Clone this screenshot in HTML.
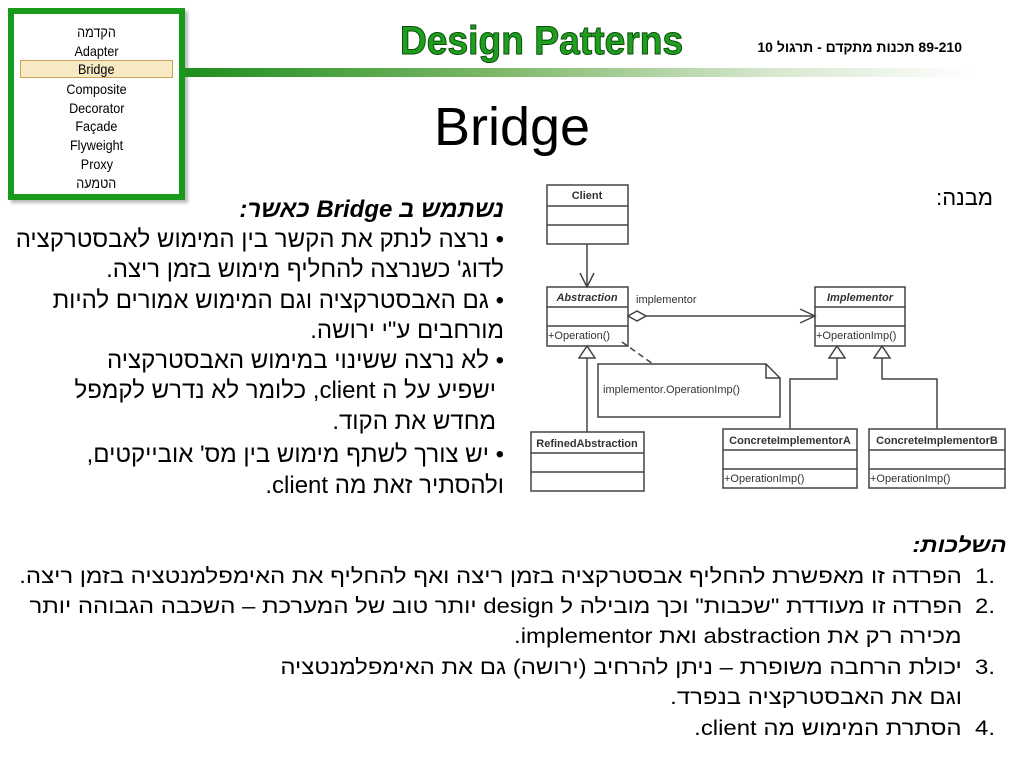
<!DOCTYPE html>
<html><head><meta charset="utf-8"><style>
body{margin:0;width:1024px;height:768px;background:#fff;position:relative;overflow:hidden;font-family:"Liberation Sans","Noto Sans CJK JP",sans-serif;color:#000}
.a{position:absolute;white-space:nowrap}
.r{direction:rtl;text-align:right}
.side{position:absolute;left:8px;top:8px;width:165px;height:180px;border:6px solid #1a9a1a;background:#fff;box-shadow:3px 3px 3px #bbb}
.side div{position:absolute;left:0;width:165px;text-align:center;font-size:14px;line-height:18px}
.side div span{display:inline-block;transform:scaleX(0.9)}
.l{font-size:24px;line-height:30px}
.b{font-size:21px;line-height:30px;transform:scaleX(1.14);transform-origin:right center}
.n{font-size:21px;line-height:30px;transform:scaleX(1.14);transform-origin:left center}
</style></head><body>
<div class="side">
<div style="top:9px"><span>הקדמה</span></div>
<div style="top:28px"><span>Adapter</span></div>
<div style="top:46px;left:6px;width:151px;height:16px;background:#f6e9c4;border:1px solid #c9a757;line-height:16px"><span>Bridge</span></div>
<div style="top:66px"><span>Composite</span></div>
<div style="top:85px"><span>Decorator</span></div>
<div style="top:103px"><span>Façade</span></div>
<div style="top:122px"><span>Flyweight</span></div>
<div style="top:141px"><span>Proxy</span></div>
<div style="top:160px"><span>הטמעה</span></div>
</div>
<div class="a" style="left:185px;top:68px;width:790px;height:9px;background:linear-gradient(to right,#1e8e1e,#7fb86a 40%,#d8e8d0 75%,#fff)"></div>
<div class="a" style="left:390px;top:19px;width:284px;text-align:center;font-weight:bold;font-size:40px;line-height:44px;color:#1ea01e;-webkit-text-stroke:1px #0a4a0a;transform:scaleX(0.93)">Design Patterns</div>
<div class="a r" style="right:62px;top:38px;font-weight:bold;font-size:14px;line-height:18px">89-210 תכנות מתקדם - תרגול 10</div>
<div class="a" style="left:0;width:1024px;text-align:center;top:96px;font-size:54px;line-height:62px">Bridge</div>
<div class="a r" style="right:31px;top:184px;font-size:22px;line-height:28px">מבנה:</div>

<div class="a r l" style="right:520px;top:195px;font-weight:bold;font-style:italic">נשתמש ב Bridge כאשר:</div>
<div class="a r l" style="right:520px;top:225px">• נרצה לנתק את הקשר בין המימוש לאבסטרקציה</div>
<div class="a r l" style="right:520px;top:255px">לדוג' כשנרצה להחליף מימוש בזמן ריצה.</div>
<div class="a r l" style="right:520px;top:286px">• גם האבסטרקציה וגם המימוש אמורים להיות</div>
<div class="a r l" style="right:520px;top:316px">מורחבים ע"י ירושה.</div>
<div class="a r l" style="right:520px;top:346px">• לא נרצה ששינוי במימוש האבסטרקציה</div>
<div class="a r l" style="right:528px;top:376px">ישפיע על ה client, כלומר לא נדרש לקמפל</div>
<div class="a r l" style="right:528px;top:407px">מחדש את הקוד.</div>
<div class="a r l" style="right:520px;top:440px">• יש צורך לשתף מימוש בין מס' אובייקטים,</div>
<div class="a r l" style="right:520px;top:471px">ולהסתיר זאת מה client.</div>

<div class="a r b" style="right:17px;top:531px;font-weight:bold;font-style:italic">השלכות:</div>
<div class="a n" style="left:975px;top:562px">1.</div>
<div class="a r b" style="right:62px;top:562px">הפרדה זו מאפשרת להחליף אבסטרקציה בזמן ריצה ואף להחליף את האימפלמנטציה בזמן ריצה.</div>
<div class="a n" style="left:975px;top:592px">2.</div>
<div class="a r b" style="right:62px;top:592px">הפרדה זו מעודדת "שכבות" וכך מובילה ל design יותר טוב של המערכת – השכבה הגבוהה יותר</div>
<div class="a r b" style="right:62px;top:622px">מכירה רק את abstraction ואת implementor.</div>
<div class="a n" style="left:975px;top:653px">3.</div>
<div class="a r b" style="right:62px;top:653px">יכולת הרחבה משופרת – ניתן להרחיב (ירושה) גם את האימפלמנטציה</div>
<div class="a r b" style="right:62px;top:683px">וגם את האבסטרקציה בנפרד.</div>
<div class="a n" style="left:975px;top:714px">4.</div>
<div class="a r b" style="right:62px;top:714px">הסתרת המימוש מה client.</div>

<svg class="a" style="left:0;top:0" width="1024" height="768" font-family="Liberation Sans, sans-serif">
<g fill="#fff" stroke="#444" stroke-width="1.5">
<rect x="547" y="185" width="81" height="59"/><line x1="547" y1="206" x2="628" y2="206"/><line x1="547" y1="225" x2="628" y2="225"/>
<rect x="547" y="287" width="81" height="59"/><line x1="547" y1="307" x2="628" y2="307"/><line x1="547" y1="326" x2="628" y2="326"/>
<rect x="815" y="287" width="90" height="59"/><line x1="815" y1="307" x2="905" y2="307"/><line x1="815" y1="326" x2="905" y2="326"/>
<rect x="531" y="432" width="113" height="59"/><line x1="531" y1="453" x2="644" y2="453"/><line x1="531" y1="472" x2="644" y2="472"/>
<rect x="723" y="429" width="134" height="59"/><line x1="723" y1="450" x2="857" y2="450"/><line x1="723" y1="469" x2="857" y2="469"/>
<rect x="869" y="429" width="136" height="59"/><line x1="869" y1="450" x2="1005" y2="450"/><line x1="869" y1="469" x2="1005" y2="469"/>
<path d="M598 364 H766 L780 378 V417 H598 Z"/><path d="M766 364 V378 H780" fill="none"/>
</g>
<g stroke="#444" stroke-width="1.5" fill="none">
<line x1="587" y1="244" x2="587" y2="286"/><path d="M580 273 L587 287 L594 273"/>
<line x1="645" y1="316" x2="814" y2="316"/><path d="M800 309 L815 316 L800 323"/>
<path d="M628 316 L637 311 L646 316 L637 321 Z" fill="#fff"/>
<line x1="587" y1="358" x2="587" y2="432"/><path d="M587 346 L579 358 H595 Z" fill="#fff"/>
<path d="M837 358 V379 H790 V429"/><path d="M837 346 L829 358 H845 Z" fill="#fff"/>
<path d="M882 358 V379 H937 V429"/><path d="M882 346 L874 358 H890 Z" fill="#fff"/>
<line x1="622" y1="342" x2="653" y2="364" stroke-dasharray="6,4"/>
</g>
<g font-size="11" fill="#333">
<text x="587" y="199" text-anchor="middle" font-weight="bold">Client</text>
<text x="587" y="301" text-anchor="middle" font-weight="bold" font-style="italic">Abstraction</text>
<text x="860" y="301" text-anchor="middle" font-weight="bold" font-style="italic">Implementor</text>
<text x="587" y="447" text-anchor="middle" font-weight="bold">RefinedAbstraction</text>
<text x="790" y="444" text-anchor="middle" font-weight="bold">ConcreteImplementorA</text>
<text x="937" y="444" text-anchor="middle" font-weight="bold">ConcreteImplementorB</text>
<text x="548" y="339">+Operation()</text>
<text x="816" y="339">+OperationImp()</text>
<text x="724" y="482">+OperationImp()</text>
<text x="870" y="482">+OperationImp()</text>
<text x="636" y="303">implementor</text>
<text x="603" y="393">implementor.OperationImp()</text>
</g>
</svg>
</body></html>
